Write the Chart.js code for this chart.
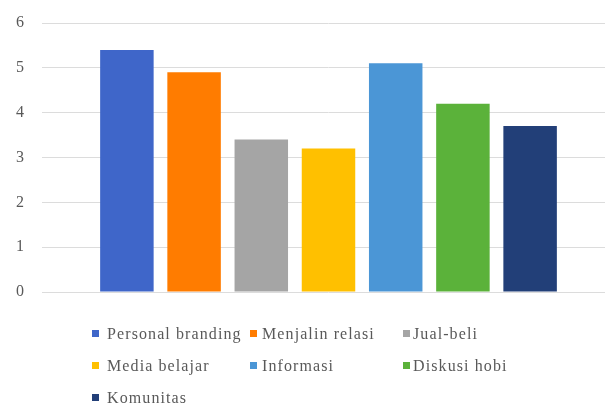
<!DOCTYPE html>
<html>
<head>
<meta charset="utf-8">
<script src="https://cdn.jsdelivr.net/npm/chart.js@4/dist/chart.umd.min.js"></script>
<style>
  html, body { margin: 0; padding: 0; background: #ffffff; overflow: hidden; width: 605px; height: 405px; }
  #wrap { position: absolute; left: 0; top: 0; width: 615px; height: 310px; }
  #legend { position: absolute; left: 0; top: 0; width: 605px; height: 405px; pointer-events: none;
            font-family: "Liberation Serif", "Times New Roman", serif; font-size: 16px; color: #595959; letter-spacing: 1.1px; }
  .li { position: absolute; white-space: nowrap; line-height: 16px; }
  .sw { position: absolute; width: 7px; height: 7px; }
</style>
</head>
<body>
<div id="wrap"><canvas id="c"></canvas></div>
<div id="legend"></div>
<script>
const categories = ["Personal branding", "Menjalin relasi", "Jual-beli", "Media belajar", "Informasi", "Diskusi hobi", "Komunitas"];
const values = [5.4, 4.9, 3.4, 3.2, 5.1, 4.2, 3.7];
const colors = ["#3F66C9", "#FF7C00", "#A5A5A5", "#FFC000", "#4B96D6", "#5BB23A", "#223F78"];
const yTicks = [0, 1, 2, 3, 4, 5, 6];

const datasets = categories.map((name, i) => ({
  label: name,
  data: [values[i]],
  backgroundColor: colors[i],
  borderWidth: 0,
  categoryPercentage: 0.821,
  barPercentage: 0.796
}));

new Chart(document.getElementById('c'), {
  type: 'bar',
  data: { labels: [''], datasets: datasets },
  options: {
    responsive: true,
    maintainAspectRatio: false,
    animation: false,
    layout: { padding: { top: 23, bottom: 18, left: 16, right: 0 } },
    plugins: { legend: { display: false }, tooltip: { enabled: false } },
    scales: {
      x: { display: false },
      y: {
        min: yTicks[0], max: yTicks[yTicks.length - 1],
        afterFit: (s) => { s.width = 26; },
        afterBuildTicks: (s) => { s.ticks = yTicks.map(v => ({ value: v })); },
        border: { display: false },
        grid: { color: '#dcdcdc', lineWidth: 1, drawTicks: false },
        ticks: { padding: 0, crossAlign: 'far', color: '#595959', font: { family: '"Liberation Serif", "Times New Roman", serif', size: 16 } }
      }
    }
  }
});

// HTML legend in the reference's grid arrangement
const legendPos = [
  [92, 333], [250, 333], [403, 333],
  [92, 365], [250, 365], [403, 365],
  [92, 397]
];
const textOffset = [15, 12, 10, 15, 12, 10, 15];
const lg = document.getElementById('legend');
categories.forEach((name, i) => {
  const [x, y] = legendPos[i];
  const sw = document.createElement('div');
  sw.className = 'sw';
  sw.style.left = x + 'px';
  sw.style.top = (y - 3) + 'px';
  sw.style.background = colors[i];
  lg.appendChild(sw);
  const t = document.createElement('div');
  t.className = 'li';
  t.style.left = (x + textOffset[i]) + 'px';
  t.style.top = (y - 7) + 'px';
  t.textContent = name;
  lg.appendChild(t);
});
</script>
</body>
</html>
